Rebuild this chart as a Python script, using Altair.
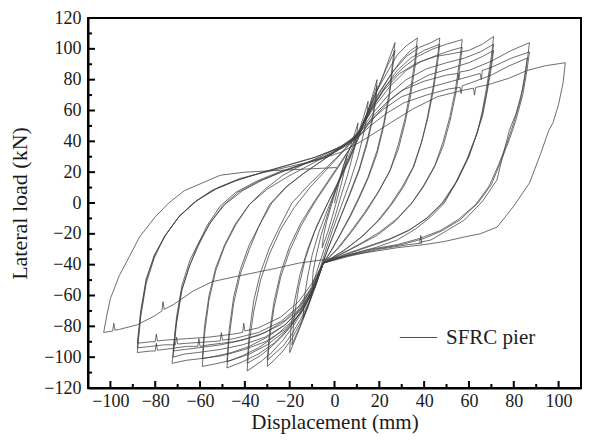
import altair as alt
import pandas as pd

# ---- hysteresis cycles: displacement (mm) and lateral load (kN) ----
c01_d = [0, 2, 4, 5.5, 5, 3.5, 1.5, -1, -3, -5.5]
c01_f = [0, 13, 24, 31, 25, 15, 4, -9, -19, -29]

c02_d = [-5.5, -5, -3.5, -1.5, 1, 4, 7, 9, 10.5, 10, 8.5, 6, 3, 0, -3, -6, -8, -10]
c02_f = [-29, -22, -12, -2, 10, 24, 36, 45, 52, 45, 33, 19, 5, -10, -23, -36, -45, -54]

c03_d = [-10, -9.5, -8, -6, -3, 0, 4, 8, 11, 13, 15, 14.5, 13, 10.5, 7, 3, -1, -4, -7, -10, -14]
c03_f = [-54, -44, -33, -21, -7, 7, 22, 36, 47, 56, 66, 57, 45, 30, 14, -2, -18, -31, -45, -59, -75]

c04_d = [-14, -13.5, -12, -10, -7, -3, 1, 5, 9, 12, 15, 17, 19, 18.5, 17, 14.5, 11, 7, 3, 0, -3, -6, -9, -12, -16, -20]
c04_f = [-75, -62, -48, -34, -19, -4, 10, 24, 37, 48, 60, 70, 80, 70, 56, 40, 22, 7, -8, -19, -30, -42, -55, -68, -83, -97]

c05_d = [-20, -19.5, -18, -15.5, -12, -8, -3, 2, 7, 11, 14, 16.5, 19, 18.5, 17, 14.5, 11, 7, 3, 0, -3, -6, -9, -12, -15.5, -19]
c05_f = [-97, -82, -65, -47, -30, -15, 0, 14, 29, 43, 55, 66, 76, 67, 54, 38, 21, 6, -8, -19, -30, -42, -55, -68, -80, -92]

c06_d = [-19, -18, -16, -13, -9, -4, 1, 6, 10, 14, 18, 22, 25, 27, 26, 24.5, 22, 19, 15, 11, 7, 3, -1, -5, -8, -11, -15, -19, -23, -27, -30]
c06_f = [-92, -74, -55, -36, -19, -3, 12, 27, 41, 55, 69, 84, 96, 104, 92, 72, 52, 34, 17, 4, -8, -19, -30, -39, -52, -64, -77, -88, -96, -102, -106]

c07_d = [-30, -29, -27, -24, -20, -15, -9, -3, 3, 8, 11, 15, 19, 23, 27, 26, 24.5, 22, 19, 15, 11, 7, 2, -2, -5, -8, -11, -15, -19, -23, -27, -30]
c07_f = [-106, -88, -68, -48, -31, -15, 0, 13, 26, 38, 46, 60, 73, 87, 99, 88, 69, 50, 32, 16, 3, -9, -22, -32, -39, -51, -63, -75, -85, -93, -98, -102]

c08_d = [-30, -29, -27, -24, -20, -15, -9, -3, 3, 8, 11, 15, 19, 24, 28, 32, 37, 36, 34, 31.5, 28.5, 25, 20, 14, 8, 2, -5, -9, -13, -18, -23, -28, -33, -39]
c08_f = [-102, -84, -64, -45, -28, -13, 1, 14, 27, 38, 46, 60, 73, 86, 96, 102, 107, 94, 74, 55, 38, 22, 8, -6, -18, -29, -39, -54, -67, -79, -89, -97, -103, -109]

c09_d = [-39, -38, -36, -33, -29, -24, -18, -11, -4, 3, 8, 11, 15, 20, 25, 30, 34, 37, 36, 34, 31.5, 28.5, 24.5, 19, 13, 7, 1, -5, -9, -13, -18, -23, -28, -33, -39]
c09_f = [-109, -90, -70, -50, -33, -17, -3, 10, 21, 32, 40, 46, 58, 71, 83, 93, 99, 102, 89, 70, 52, 35, 20, 6, -7, -19, -30, -39, -53, -65, -77, -86, -93, -99, -104]

c10_d = [-39, -38, -36, -33, -29, -24, -19, -12, -5, 2, 7, 11, 15, 20, 26, 32, 38, 43, 47, 46, 44, 41.5, 39, 35.5, 31, 26, 20, 13, 5, -5, -9, -14, -20, -27, -34, -41, -48]
c10_f = [-104, -84, -63, -45, -29, -14, 0, 11, 21, 31, 39, 46, 59, 72, 85, 95, 101, 104, 107, 95, 75, 56, 40, 24, 11, 0, -11, -21, -30, -39, -55, -69, -81, -91, -98, -103, -107]

c11_d = [-48, -47, -45, -42, -38, -34, -29, -22, -14, -6, 2, 8, 11, 16, 22, 28, 34, 40, 47, 46, 44, 41.5, 38.5, 35, 30, 25, 19, 12, 4, -5, -9, -14, -20, -27, -34, -41, -48]
c11_f = [-107, -87, -65, -46, -30, -16, -1, 10, 19, 27, 35, 41, 46, 60, 74, 86, 94, 99, 103, 91, 72, 54, 38, 23, 10, -1, -12, -22, -31, -39, -54, -67, -78, -87, -94, -99, -103]

c12_d = [-48, -47, -45, -42, -38, -33, -28, -21, -13, -5, 3, 8, 12, 17, 23, 30, 37, 44, 50, 57, 56, 54, 51.5, 48.5, 45, 40, 35, 28, 20, 12, 3, -5, -9, -15, -22, -30, -38, -46, -52, -59]
c12_f = [-103, -82, -61, -43, -27, -13, 0, 11, 20, 28, 36, 41, 48, 62, 76, 87, 95, 100, 103, 106, 94, 74, 56, 40, 25, 12, 1, -10, -19, -26, -33, -39, -56, -71, -83, -92, -98, -102, -104, -106]

c13_d = [-59, -58, -56, -53, -49, -44, -38, -31, -23, -14, -5, 3, 8, 12, 18, 25, 32, 39, 46, 52, 57, 56, 54, 51.5, 48.5, 44.5, 39.5, 34, 27, 19, 10, 2, -5, -9, -15, -22, -30, -38, -46, -52, -59]
c13_f = [-106, -85, -63, -44, -28, -14, -1, 9, 18, 25, 31, 37, 42, 49, 63, 76, 86, 92, 96, 99, 101, 89, 70, 53, 37, 23, 10, -1, -12, -21, -28, -34, -39, -54, -68, -79, -87, -93, -97, -99, -101]

c14_d = [-59, -58, -56, -53, -49, -44, -38, -30, -21, -12, -3, 5, 11, 16, 22, 29, 37, 45, 53, 60, 66, 71, 70, 68, 66, 64, 60, 55, 49, 43, 36, 28, 18, 8, -5, -9, -15, -22, -31, -40, -50, -60, -66, -72.5]
c14_f = [-101, -80, -60, -42, -27, -13, -1, 9, 17, 24, 31, 38, 46, 60, 73, 84, 91, 95, 97, 99, 103, 108, 95, 76, 60, 47, 30, 15, 0, -9, -17, -24, -29, -33, -39, -56, -71, -82, -90, -95, -99, -101, -102, -104]

c15_d = [-72.5, -71, -68.5, -65, -61.5, -57, -51, -44, -35, -25, -15, -5, 4, 11, 17, 24, 32, 41, 50, 58, 65, 71, 70, 68, 66, 63.5, 59.5, 54.5, 49, 42, 34, 25, 15, 5, -5, -9, -15, -22, -31, -41, -51, -61, -67, -72]
c15_f = [-104, -82, -58, -42, -29, -15, -2, 7, 14, 20, 25, 30, 37, 45, 58, 70, 80, 87, 91, 94, 98, 103, 91, 73, 58, 45, 29, 14, 1, -9, -17, -23, -28, -33, -39, -55, -69, -79, -87, -92, -95, -97, -98, -100]

c16_d = [-72, -70.5, -68, -64.5, -60.5, -56, -50, -43, -34, -24, -14, -4, 5, 12, 18, 25, 33, 42, 51, 60, 66, 71, 70, 68, 66, 63, 59, 54, 48, 41, 33, 24, 14, 4, -5, -9, -15, -22, -31, -41, -51, -61, -67, -72]
c16_f = [-100, -78, -56, -40, -27, -14, -2, 7, 14, 20, 25, 30, 37, 45, 56, 67, 76, 83, 87, 91, 95, 99, 88, 71, 56, 43, 28, 13, 0, -10, -18, -24, -29, -34, -39, -53, -66, -76, -84, -89, -92, -94, -95, -96]

c17_d = [-72, -70.5, -68, -64.5, -60, -55, -49, -41, -32, -22, -12, -2, 6, 12, 17, 23, 30, 40, 50, 55, 55.5, 56, 60, 70, 79, 87,
         86, 84, 81, 78, 75, 72.5, 66, 58, 50, 43, 38, 38.5, 39, 33, 20, 8, -5,
         -10, -16, -24, -34, -45, -56, -60, -60.5, -61, -66, -76, -79, -79.5, -80, -82, -88]
c17_f = [-96, -74, -53, -37, -24, -12, -1, 8, 15, 21, 26, 31, 38, 45, 56, 65, 73, 79, 83, 84, 80, 85, 86, 92, 99, 104,
         92, 74, 58, 47, 30, 15, 1, -11, -18, -24, -25.5, -21, -26, -27, -30, -34, -39,
         -55, -69, -79, -86, -90, -92, -93, -88, -93, -93, -95, -95.5, -91, -96, -96, -97]

c18_d = [-88, -86.5, -84, -80.5, -76, -70, -63, -55, -45, -34, -22, -10, 1, 9, 15, 22, 30, 40, 50, 60, 65, 65.5, 66, 70, 79, 87,
         86, 84, 81, 78, 74, 70, 64, 56, 48, 40, 30, 18, 6, -5,
         -10, -16, -24, -34, -45, -50, -50.5, -51, -56, -66, -70, -70.5, -71, -76, -82, -88]
c18_f = [-97, -74, -52, -36, -22, -10, 0, 8, 14, 19, 24, 29, 35, 42, 52, 61, 69, 74, 78, 82, 84, 80, 86, 88, 94, 98,
         87, 70, 54, 41, 26, 12, 0, -11, -18, -23, -27, -30, -34, -39,
         -54, -67, -77, -84, -88, -89, -84, -89.5, -90, -91, -91.5, -87, -92, -92, -93, -94]

c19_d = [-88, -86.5, -84, -80.5, -75.5, -69.5, -62, -53, -43, -32, -20, -8, 2, 10, 16, 23, 31, 41, 51, 56, 56.5, 57, 61, 70, 78, 86,
         85, 83, 80, 77, 73, 69, 63, 55, 47, 38, 28, 16, 5, -5,
         -10, -16, -24, -34, -40, -40.5, -41, -45, -56, -66, -76, -79, -79.5, -80, -82, -88]
c19_f = [-94, -72, -50, -34, -21, -9, 1, 9, 15, 20, 25, 30, 36, 42, 50, 58, 65, 70, 74, 75, 71, 76, 78, 83, 89, 94,
         83, 67, 52, 39, 24, 11, -1, -11, -18, -23, -27, -30, -34, -39,
         -52, -64, -74, -81, -83, -78, -84, -85, -87, -88, -89, -89.5, -85, -90, -90, -91]

c20_d = [-88, -86.5, -84, -80, -75, -69, -61, -52, -42, -31, -19, -7, 3, 12, 25, 35, 46, 57, 62, 62.5, 63, 68, 78, 86, 94, 103,
         102, 100, 97.5, 95.6, 92, 87, 80, 72.6, 65, 58, 49, 40, 28, 15, 3, -6, -16,
         -25, -35, -45, -54.5, -63, -72, -76, -76.5, -77, -80, -88, -96, -98, -98.5, -99, -103]
c20_f = [-91, -70, -49, -33, -20, -8, 2, 10, 16, 20, 24, 28, 33, 40, 52, 61, 69, 73, 74.5, 70, 75, 76.5, 81, 86, 89, 91,
         78, 64, 52, 47, 32, 13, -2, -15.6, -20, -22, -25, -27, -29, -32, -35, -37, -39,
         -42, -45, -48, -51, -57, -66, -69, -64, -70, -73, -79, -82, -82.5, -78, -83, -84]

c21_d = [-103, -101.5, -100, -96, -92, -87, -80, -74, -67, -59, -51, -40, -27, -13, 1]
c21_f = [-84, -72, -62, -47, -36, -22, -9, 0, 8, 13, 18, 20, 21, 22, 23]

series_name = ["SFRC pier"]

x_major = [-100, -80, -60, -40, -20, 0, 20, 40, 60, 80, 100]
x_minor = [-90, -70, -50, -30, -10, 10, 30, 50, 70, 90]
y_major = [-100, -80, -60, -40, -20, 0, 20, 40, 60, 80, 100]
y_minor = [-110, -90, -70, -50, -30, -10, 10, 30, 50, 70, 90, 110]
x_labels = [-100, -80, -60, -40, -20, 0, 20, 40, 60, 80, 100]
y_labels = [-120, -100, -80, -60, -40, -20, 0, 20, 40, 60, 80, 100, 120]

cycles = [
    (c01_d, c01_f), (c02_d, c02_f), (c03_d, c03_f), (c04_d, c04_f), (c05_d, c05_f),
    (c06_d, c06_f), (c07_d, c07_f), (c08_d, c08_f), (c09_d, c09_f), (c10_d, c10_f),
    (c11_d, c11_f), (c12_d, c12_f), (c13_d, c13_f), (c14_d, c14_f), (c15_d, c15_f),
    (c16_d, c16_f), (c17_d, c17_f), (c18_d, c18_f), (c19_d, c19_f), (c20_d, c20_f),
    (c21_d, c21_f),
]

rows = []
seq = 0
for d_list, f_list in cycles:
    for dv, fv in zip(d_list, f_list):
        rows.append({"disp": dv, "load": fv, "seq": seq, "series": series_name[0]})
        seq += 1
df = pd.DataFrame(rows)

W, H = 493, 370
FONT = "Liberation Serif"

xscale = alt.Scale(domain=[-110, 110], nice=False, zero=False)
yscale = alt.Scale(domain=[-120, 120], nice=False, zero=False)
x_axis = alt.Axis(values=x_labels, title="Displacement (mm)", format="d",
                  labelPadding=4, titlePadding=1, titleFontSize=21)
y_axis = alt.Axis(values=y_labels, title="Lateral load (kN)", format="d",
                  labelPadding=7, titlePadding=12)

curve = alt.Chart(df).mark_line(strokeWidth=0.85, strokeJoin="round", opacity=0.9).encode(
    x=alt.X("disp:Q", scale=xscale, axis=x_axis),
    y=alt.Y("load:Q", scale=yscale, axis=y_axis),
    order="seq:Q",
    color=alt.Color("series:N", scale=alt.Scale(range=["#404040"]),
                    legend=alt.Legend(title=None, orient="none", legendX=311, legendY=300,
                                      symbolType="stroke", symbolSize=1400, symbolStrokeWidth=1,
                                      labelFont=FONT, labelFontSize=21, labelColor="#222222",
                                      labelOffset=8, padding=0)),
)

xmaj = alt.Chart(pd.DataFrame({"disp": x_major})).mark_rule(color="black", strokeWidth=2).encode(
    x=alt.X("disp:Q", scale=xscale, axis=x_axis), y=alt.value(H), y2=alt.value(H - 7))
xmin = alt.Chart(pd.DataFrame({"disp": x_minor})).mark_rule(color="black", strokeWidth=2).encode(
    x=alt.X("disp:Q", scale=xscale, axis=x_axis), y=alt.value(H), y2=alt.value(H - 4))
ymaj = alt.Chart(pd.DataFrame({"load": y_major})).mark_rule(color="black", strokeWidth=2).encode(
    y=alt.Y("load:Q", scale=yscale, axis=y_axis), x=alt.value(0), x2=alt.value(7))
ymin = alt.Chart(pd.DataFrame({"load": y_minor})).mark_rule(color="black", strokeWidth=2).encode(
    y=alt.Y("load:Q", scale=yscale, axis=y_axis), x=alt.value(0), x2=alt.value(4))

chart = alt.layer(curve, xmaj, xmin, ymaj, ymin).properties(
    width=W, height=H,
    autosize=alt.AutoSizeParams(type="none"),
    padding={"left": 80, "top": 10, "right": 1, "bottom": 48},
    background="white",
).configure_view(
    stroke="black", strokeWidth=2
).configure_axis(
    grid=False, ticks=False, domain=True, domainColor="black", domainWidth=2,
    labelFont=FONT, labelFontSize=18, labelColor="#1a1a1a",
    titleFont=FONT, titleFontSize=22, titleFontWeight="normal", titleColor="#1a1a1a",
)

chart.save("out.html", embed_options={"renderer": "svg", "actions": False})
